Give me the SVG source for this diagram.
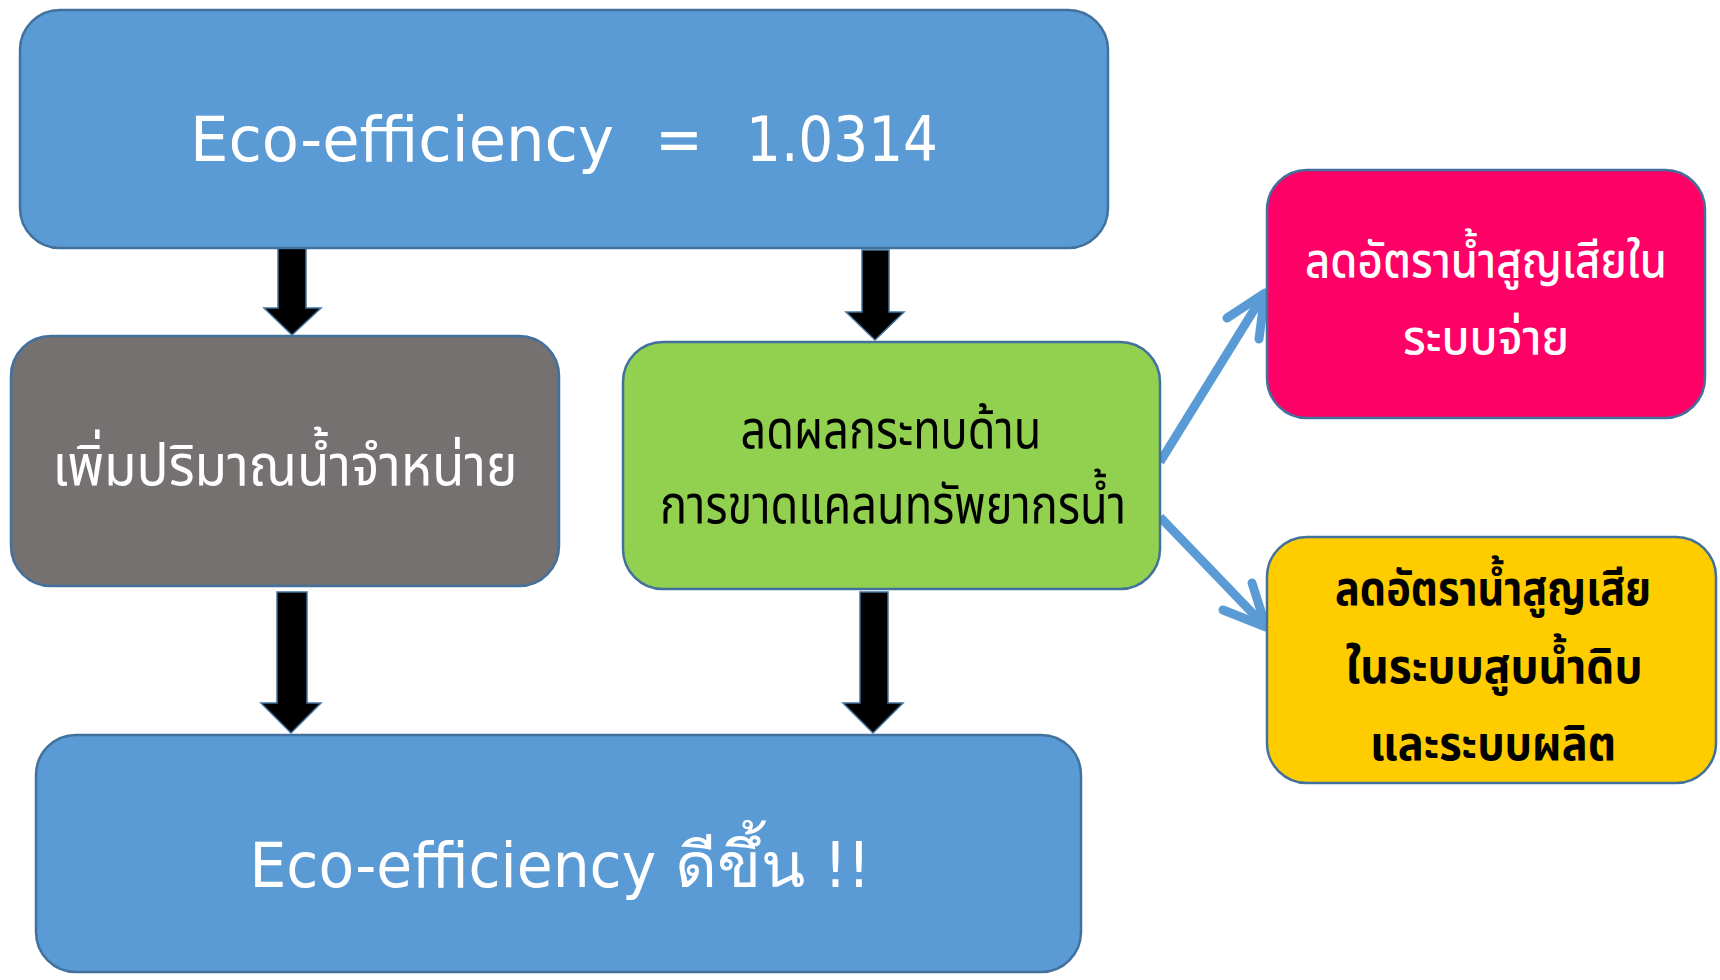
<svg xmlns="http://www.w3.org/2000/svg" width="1720" height="980" viewBox="0 0 1720 980">
<defs>
<style>
.box{stroke:#41719C;stroke-width:2.5}
.t{font-family:"Noto Sans Thai","Noto Sans","DejaVu Sans",sans-serif;text-anchor:middle}
.en{font-family:"DejaVu Sans Condensed","Noto Sans",sans-serif;text-anchor:middle;white-space:pre}
.blk{fill:#000;stroke:#41719C;stroke-width:1.5}
.bl{fill:none;stroke:#5B9BD5;stroke-width:9;stroke-linejoin:round}
.bl-h{fill:none;stroke:#5B9BD5;stroke-width:9;stroke-linecap:round;stroke-linejoin:round}
</style>
</defs>
<rect width="1720" height="980" fill="#fff"/>
<g id="connectors">
<polygon class="blk" points="278,248 306,248 306,308 321,308 292,335 264,308 278,308"/>
<polygon class="blk" points="862,250 889,250 889,312 904,312 875,340 846,312 862,312"/>
<polygon class="blk" points="277,592 307,592 307,703 321,703 291,733 261,703 277,703"/>
<polygon class="blk" points="860,592 888,592 888,703 903,703 873,733 843,703 860,703"/>
<line class="bl" x1="1160" y1="462" x2="1262" y2="297"/>
<polyline class="bl-h" points="1227,318 1265,293 1259,339"/>
<line class="bl" x1="1160" y1="517" x2="1262" y2="623"/>
<polyline class="bl-h" points="1223,610 1266,627 1252,583"/>
</g>
<g id="top">
<rect class="box" x="20" y="10" width="1088" height="238" rx="40" fill="#5B9BD5"/>
<text class="en" x="402" y="161" font-size="63" fill="#fff" textLength="424" lengthAdjust="spacingAndGlyphs">Eco-efficiency</text>
<text class="en" x="679" y="161" font-size="63" fill="#fff">=</text>
<text class="en" x="842" y="161" font-size="63" fill="#fff" textLength="192" lengthAdjust="spacingAndGlyphs">1.0314</text>
</g>
<g id="increase">
<rect class="box" x="11" y="336" width="548" height="250" rx="40" fill="#767171"/>
<text class="t" x="285" y="485" font-size="58" fill="#fff" textLength="465" lengthAdjust="spacingAndGlyphs">เพิ่มปริมาณน้ำจำหน่าย</text>
</g>
<g id="reduce">
<rect class="box" x="623" y="342" width="537" height="247" rx="40" fill="#92D050"/>
<text class="t" x="891" y="448" font-size="54" fill="#000" textLength="301" lengthAdjust="spacingAndGlyphs">ลดผลกระทบด้าน</text>
<text class="t" x="893" y="523" font-size="54" fill="#000" textLength="466" lengthAdjust="spacingAndGlyphs">การขาดแคลนทรัพยากรน้ำ</text>
</g>
<g id="pink">
<rect class="box" x="1267" y="170" width="438" height="248" rx="40" fill="#FF0066"/>
<text class="t" x="1486" y="277" font-size="48" font-weight="500" fill="#fff" textLength="362" lengthAdjust="spacingAndGlyphs">ลดอัตราน้ำสูญเสียใน</text>
<text class="t" x="1486" y="354" font-size="48" font-weight="500" fill="#fff" textLength="166" lengthAdjust="spacingAndGlyphs">ระบบจ่าย</text>
</g>
<g id="yellow">
<rect class="box" x="1267" y="537" width="449" height="246" rx="40" fill="#FFCC00"/>
<text class="t" x="1493" y="605" font-size="48" font-weight="bold" fill="#000" textLength="316" lengthAdjust="spacingAndGlyphs">ลดอัตราน้ำสูญเสีย</text>
<text class="t" x="1494" y="683" font-size="48" font-weight="bold" fill="#000" textLength="297" lengthAdjust="spacingAndGlyphs">ในระบบสูบน้ำดิบ</text>
<text class="t" x="1493" y="760" font-size="48" font-weight="bold" fill="#000" textLength="246" lengthAdjust="spacingAndGlyphs">และระบบผลิต</text>
</g>
<g id="bottom">
<rect class="box" x="36" y="735" width="1045" height="237" rx="40" fill="#5B9BD5"/>
<text class="en" x="560" y="887" font-size="63" fill="#fff" textLength="621" lengthAdjust="spacingAndGlyphs">Eco-efficiency ดีขึ้น !!</text>
</g>
</svg>
